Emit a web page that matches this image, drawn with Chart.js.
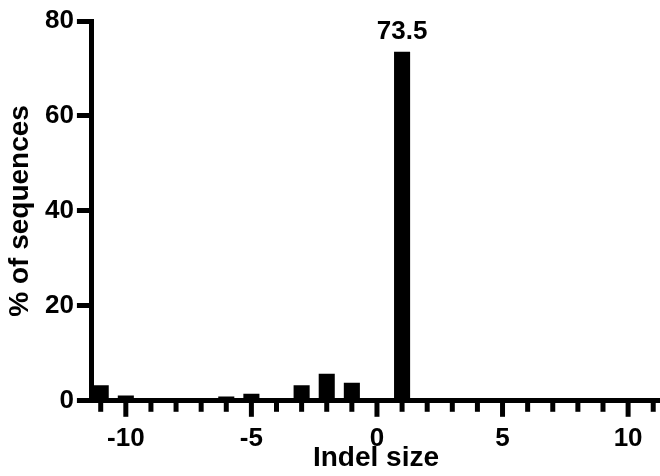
<!DOCTYPE html>
<html>
<head>
<meta charset="utf-8">
<script src="https://cdn.jsdelivr.net/npm/chart.js@4"></script>
<style>
  html, body { margin: 0; padding: 0; background: #fff; }
  #wrap { width: 660px; height: 476px; }
</style>
</head>
<body>
<div id="wrap"><canvas id="graph-indels"></canvas></div>
<script>
// indel sizes and % of sequences
const sizes = [-11, -10, -9, -8, -7, -6, -5, -4, -3, -2, -1, 0, 1, 2, 3, 4, 5, 6, 7, 8, 9, 10, 11];
const percents = [3.3, 1.1, 0, 0, 0, 0.9, 1.5, 0, 3.3, 5.7, 3.8, 0, 73.5, 0, 0, 0, 0, 0, 0, 0, 0, 0, 0];
const yTicks = [0, 20, 40, 60, 80];
const labelled = [73.5];

const FONT = 'Liberation Sans, Arial, Helvetica, sans-serif';

// minor / major tick marks under the x axis
const xTickMarks = {
  id: 'xTickMarks',
  afterDatasetsDraw(chart) {
    const { ctx, chartArea } = chart;
    const x = chart.scales.x;
    ctx.save();
    ctx.strokeStyle = '#000';
    ctx.lineWidth = 5;
    ctx.lineCap = 'butt';
    sizes.forEach(v => {
      const px = x.getPixelForValue(v);
      const len = v % 5 === 0 ? 16 : 11;
      ctx.beginPath();
      ctx.moveTo(px, chartArea.bottom);
      ctx.lineTo(px, chartArea.bottom + len);
      ctx.stroke();
    });
    ctx.restore();
  }
};

// value label above the big bar
const barLabel = {
  id: 'barLabel',
  afterDatasetsDraw(chart) {
    const { ctx } = chart;
    const meta = chart.getDatasetMeta(0);
    ctx.save();
    ctx.fillStyle = '#000';
    ctx.font = 'bold 26px ' + FONT;
    ctx.textAlign = 'center';
    ctx.textBaseline = 'alphabetic';
    percents.forEach((p, i) => {
      if (labelled.includes(p)) {
        const bar = meta.data[i];
        ctx.fillText(String(p), bar.x, bar.y - 13);
      }
    });
    ctx.restore();
  }
};

const ctx = document.getElementById('graph-indels');
new Chart(ctx, {
  type: 'bar',
  data: {
    datasets: [{
      label: '',
      data: sizes.map((s, i) => ({ x: s, y: percents[i] })),
      backgroundColor: '#000',
      borderWidth: 0,
      categoryPercentage: 1,
      barPercentage: 0.64
    }]
  },
  options: {
    responsive: true,
    maintainAspectRatio: false,
    animation: false,
    layout: { padding: { left: 2, top: 21, right: 0, bottom: 0 } },
    scales: {
      x: {
        type: 'linear',
        offset: false,
        min: -11.35,
        max: 11.27,
        afterBuildTicks: s => { s.ticks = sizes.map(v => ({ value: v })); },
        afterFit: s => { s.paddingLeft = 0; s.paddingRight = 0; },
        grid: { drawOnChartArea: false, drawTicks: false, offset: false },
        border: { color: '#000', width: 5 },
        ticks: {
          autoSkip: false,
          maxRotation: 0,
          padding: 22,
          color: '#000',
          font: { family: FONT, size: 26, weight: 'bold' },
          callback: v => (v % 5 === 0 ? String(v) : '')
        },
        title: {
          display: true,
          text: 'Indel size',
          color: '#000',
          font: { family: FONT, size: 28, weight: 'bold', lineHeight: 1 },
          padding: { top: -32, bottom: 4 }
        }
      },
      y: {
        min: 0,
        max: 80,
        afterBuildTicks: s => { s.ticks = yTicks.map(v => ({ value: v })); },
        afterFit: s => { s.paddingTop = 0; s.paddingBottom = 0; },
        grid: { drawOnChartArea: false, drawTicks: true, tickLength: 15, tickWidth: 5, tickColor: '#000' },
        border: { color: '#000', width: 5 },
        ticks: {
          padding: 3,
          color: '#000',
          font: { family: FONT, size: 26, weight: 'bold' }
        },
        title: {
          display: true,
          text: '% of sequences',
          color: '#000',
          font: { family: FONT, size: 28, weight: 'bold', lineHeight: 1 },
          padding: { top: 4, bottom: 8 }
        }
      }
    },
    plugins: {
      legend: { display: false },
      tooltip: { enabled: false }
    }
  },
  plugins: [xTickMarks, barLabel]
});
</script>
</body>
</html>
